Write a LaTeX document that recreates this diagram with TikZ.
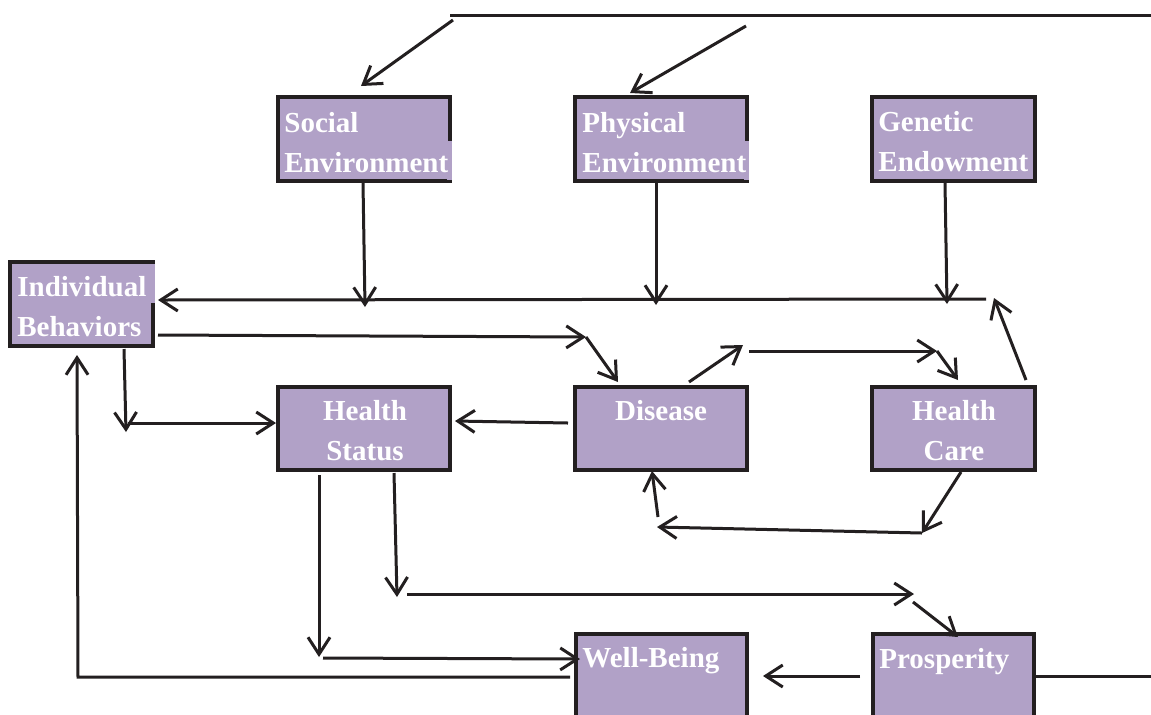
\documentclass[tikz,border=0pt]{standalone}
\usepackage{fontspec}
\setmainfont{Liberation Serif}
\usetikzlibrary{arrows.meta}
\definecolor{boxfill}{RGB}{177,161,199}
\definecolor{ink}{RGB}{35,31,32}
\begin{document}
\begin{tikzpicture}[x=0.5pt,y=-0.5pt,
  box/.style={draw=ink, fill=boxfill, line width=1.6pt, inner sep=0pt},
  lbl/.style={text=white, font=\bfseries\fontsize{14.5}{20}\selectfont, inner sep=0pt},
  arr/.style={draw=ink, line width=1.5pt, -{Straight Barb[length=8.5pt,width=11pt]}},
  ln/.style={draw=ink, line width=1.5pt}]
\clip (0,0) rectangle (1151,714);
\fill[white] (0,0) rectangle (1151,714);
% boxes
\node[box, minimum width=86pt, minimum height=42pt] (soc) at (364,139) {};
\node[box, minimum width=86pt, minimum height=42pt] (phy) at (661,139) {};
\node[box, minimum width=81.5pt, minimum height=42pt] (gen) at (953.5,139) {};
\node[box, minimum width=71.5pt, minimum height=42pt] (ib) at (81.5,304) {};
\node[box, minimum width=86pt, minimum height=41.5pt] (hs) at (364,428.5) {};
\node[box, minimum width=86pt, minimum height=41.5pt] (dis) at (661,428.5) {};
\node[box, minimum width=81.5pt, minimum height=41.5pt] (hc) at (953.5,428.5) {};
\node[box, minimum width=85.5pt, minimum height=60pt] (wb) at (661.5,694) {};
\node[box, minimum width=80.5pt, minimum height=60pt] (pro) at (953.5,694) {};
% text backgrounds covering the right borders
\fill[boxfill] (447,141) rectangle (452,180);
\fill[boxfill] (744,141) rectangle (749,180);
\fill[boxfill] (150,264) rectangle (155,303);
% labels (base anchor = baseline of the last line)
\node[lbl, anchor=base west, align=left] (socT) at (284,172) {Social\\Environment};
\node[lbl, anchor=base west, align=left] (phyT) at (582,172) {Physical\\Environment};
\node[lbl, anchor=base west, align=left] (genT) at (878,171) {Genetic\\Endowment};
\node[lbl, anchor=base west, align=left] (ibT) at (17,336) {Individual\\Behaviors};
\node[lbl, anchor=base, align=center] (hsT) at (365,460) {Health\\Status};
\node[lbl, anchor=base] (disT) at (661,420) {Disease};
\node[lbl, anchor=base, align=center] (hcT) at (954,460) {Health\\Care};
\node[lbl, anchor=base west] (wbT) at (582,667) {Well-Being};
\node[lbl, anchor=base west] (proT) at (879,668) {Prosperity};
% coordinates
\coordinate (tl) at (450,15);
\coordinate (tr) at (1151,15);
\coordinate (a1s) at (453,20);   \coordinate (a1e) at (361,86);
\coordinate (a2s) at (746,26);   \coordinate (a2e) at (630,93);
\coordinate (sds) at (363,183);  \coordinate (sde) at (365,307);
\coordinate (pds) at (656,183);  \coordinate (pde) at (656,305);
\coordinate (gds) at (945,183);  \coordinate (gde) at (947,304);
\coordinate (hzs) at (986,299);  \coordinate (hze) at (158,300);
\coordinate (hcus) at (1026,380); \coordinate (hcue) at (994,298);
\coordinate (ids) at (158,335);  \coordinate (idm) at (586,337); \coordinate (ide) at (618,382);
\coordinate (dhs) at (689,382);  \coordinate (dhm) at (743,345);
\coordinate (dhs2) at (749,351); \coordinate (dhm2) at (937,351); \coordinate (dhe) at (958,380);
\coordinate (hds) at (961,472);  \coordinate (hdm) at (922,533);
\coordinate (hdm2) at (657,527); \coordinate (hdu) at (658,517); \coordinate (hde) at (652,471);
\coordinate (ibds) at (124,349); \coordinate (ibdm) at (126,432);
\coordinate (ibhs) at (128,423); \coordinate (ibhe) at (276,423);
\coordinate (dss) at (568,423);  \coordinate (dse) at (455,421);
\coordinate (h1s) at (319,475);  \coordinate (h1m) at (319,657);
\coordinate (h1s2) at (323,658); \coordinate (h1e) at (580,659);
\coordinate (h2s) at (394,473);  \coordinate (h2m) at (397,597);
\coordinate (h2s2) at (407,594); \coordinate (h2m2) at (914,594);
\coordinate (h2s3) at (913,602); \coordinate (h2e) at (958,637);
\coordinate (pws) at (860,676);  \coordinate (pwe) at (763,676);
\coordinate (prs) at (1035,676); \coordinate (pre) at (1151,676);
\coordinate (wis) at (570,677);  \coordinate (wic) at (78,677); \coordinate (wie) at (77,355);
% connectors
\draw[ln] (tl) -- (tr);
\draw[arr] (a1s) -- (a1e);
\draw[arr] (a2s) -- (a2e);
\draw[arr] (sds) -- (sde);
\draw[arr] (pds) -- (pde);
\draw[arr] (gds) -- (gde);
\draw[arr] (hzs) -- (hze);
\draw[arr] (hcus) -- (hcue);
\draw[arr] (ids) -- (idm);
\draw[arr] (idm) -- (ide);
\draw[arr] (dhs) -- (dhm);
\draw[arr] (dhs2) -- (dhm2);
\draw[arr] (dhm2) -- (dhe);
\draw[arr] (hds) -- (hdm);
\draw[arr] (hdm) -- (hdm2);
\draw[arr] (hdu) -- (hde);
\draw[arr] (ibds) -- (ibdm);
\draw[arr] (ibhs) -- (ibhe);
\draw[arr] (dss) -- (dse);
\draw[arr] (h1s) -- (h1m);
\draw[arr] (h1s2) -- (h1e);
\draw[arr] (h2s) -- (h2m);
\draw[arr] (h2s2) -- (h2m2);
\draw[arr] (h2s3) -- (h2e);
\draw[arr] (pws) -- (pwe);
\draw[ln] (prs) -- (pre);
\draw[arr] (wis) -- (wic) -- (wie);
\end{tikzpicture}
\end{document}
